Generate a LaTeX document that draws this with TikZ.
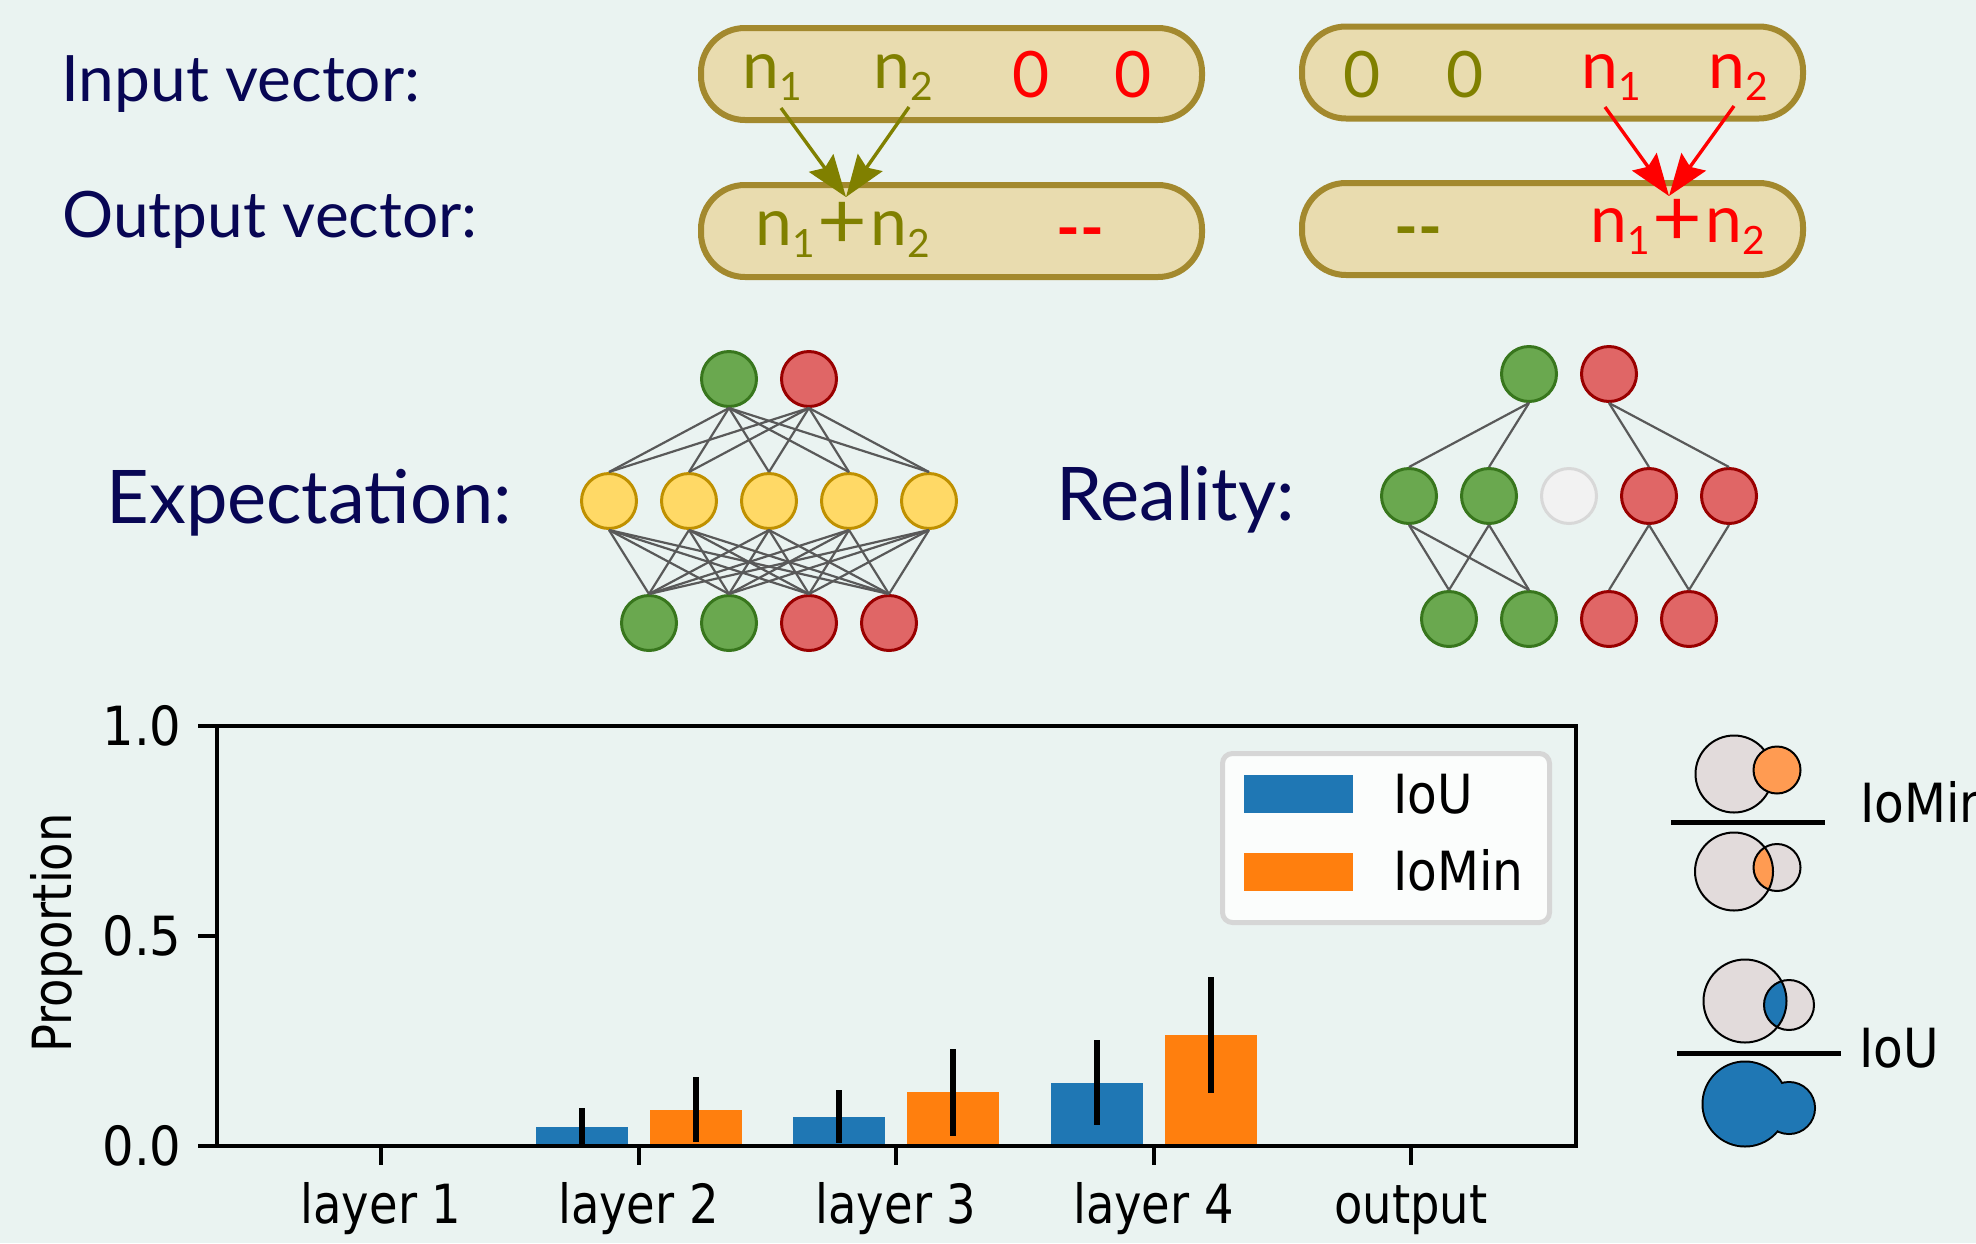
\documentclass[tikz,border=0pt]{standalone}
\usepackage{fontspec}
\setmainfont{Lato}
\newfontfamily\dvs{DejaVu Sans}
\usetikzlibrary{arrows.meta}
\definecolor{bg}{HTML}{EAF3F1}
\definecolor{navy}{RGB}{8,6,84}
\definecolor{pillfill}{HTML}{E9DCAF}
\definecolor{pillline}{HTML}{A3892E}
\definecolor{olivec}{HTML}{808000}
\definecolor{redc}{HTML}{FF0000}
\definecolor{gfill}{HTML}{6AA84F}
\definecolor{gline}{HTML}{38761D}
\definecolor{rfill}{HTML}{E06666}
\definecolor{rline}{HTML}{990000}
\definecolor{yfill}{HTML}{FFD966}
\definecolor{yline}{HTML}{BF9000}
\definecolor{nfill}{HTML}{F2F2F2}
\definecolor{nline}{HTML}{D8D8D8}
\definecolor{connc}{HTML}{595959}
\definecolor{mblue}{HTML}{1F77B4}
\definecolor{morange}{HTML}{FF7F0E}
\definecolor{lorange}{HTML}{FF9B52}
\definecolor{vgray}{HTML}{E2DBDB}
\definecolor{legline}{HTML}{D6D6D6}
\definecolor{legfill}{HTML}{FBFDFC}
\newcommand\subs[1]{\raisebox{-6pt}{\fontsize{19.5}{20}\selectfont #1}}
\newcommand\plussign{\kern1.5pt\raisebox{-1.5pt}{\scalebox{1.3}[1.2]{+}}\kern1.5pt}
\newcommand\chartfont{\dvs\fontsize{27}{32}\selectfont}
\begin{document}
\begin{tikzpicture}[x=0.5pt,y=-0.5pt,
  pill/.style={draw=pillline, fill=pillfill, line width=3pt, rounded corners=22pt,
    minimum width=250.5pt, minimum height=46pt, inner sep=0pt},
  lab/.style={text=navy, inner sep=0pt, anchor=base west, font=\fontsize{32}{38}\selectfont},
  biglab/.style={text=navy, inner sep=0pt, anchor=base west, font=\fontsize{37}{44}\selectfont},
  vtxt/.style={inner sep=0pt, anchor=base west, font=\fontsize{33}{38}\selectfont},
  vnum/.style={inner sep=0pt, anchor=base, font=\fontsize{32}{38}\selectfont},
  vdash/.style={inner sep=0pt, anchor=base, font=\fontsize{32}{38}\selectfont\bfseries},
  arr/.style={-{Stealth[length=21pt,width=15pt,inset=3pt]}, line width=1.7pt},
  neuron/.style={circle, minimum size=27.5pt, inner sep=0pt, line width=1.5pt},
  gn/.style={neuron, fill=gfill, draw=gline},
  rn/.style={neuron, fill=rfill, draw=rline},
  yn/.style={neuron, fill=yfill, draw=yline},
  on/.style={neuron, fill=nfill, draw=nline},
  conn/.style={draw=connc, line width=1.1pt},
  ebar/.style={line width=3pt, black},
  spine/.style={line width=2pt, black},
  ctext/.style={inner sep=0pt, font=\chartfont},
  venn/.style={line width=1pt, black},
  frac/.style={line width=2.5pt, black}
]
\fill[bg] (0,0) rectangle (1976,1243);
\clip (0,0) rectangle (1976,1243);

% ---------- top: vectors ----------
\node[lab] (inlab) at (61,101) {Input vector:};
\node[lab] (outlab) at (62,237) {Output vector:};

\node[pill] (p1in) at (951.5,74) {};
\node[pill] (p2in) at (1552.5,72.5) {};
\node[pill] (p1out) at (951.5,231) {};
\node[pill] (p2out) at (1552.5,229) {};

% pill 1 input
\node[vtxt, text=olivec] (a1) at (742,88) {n\subs{1}};
\node[vtxt, text=olivec] (a2) at (873,88) {n\subs{2}};
\node[vnum, text=redc] (a3) at (1031.5,97) {0};
\node[vnum, text=redc] (a4) at (1133.5,97) {0};
% pill 2 input
\node[vnum, text=olivec] (b1) at (1362.5,97) {0};
\node[vnum, text=olivec] (b2) at (1465,97) {0};
\node[vtxt, text=redc] (b3) at (1581,88) {n\subs{1}};
\node[vtxt, text=redc] (b4) at (1708,88) {n\subs{2}};
% pill 1 output
\node[vtxt, text=olivec] (c1) at (755,245) {n\subs{1}\plussign n\subs{2}};
\node[vdash, text=redc] (c2) at (1080,250) {-{}-};
% pill 2 output
\node[vdash, text=olivec] (d1) at (1418,249) {-{}-};
\node[vtxt, text=redc] (d2) at (1590,242) {n\subs{1}\plussign n\subs{2}};

\coordinate (s1) at (781,108);
\coordinate (s2) at (909,107);
\coordinate (t1) at (846,197);
\coordinate (s3) at (1605,107);
\coordinate (s4) at (1734,106);
\coordinate (t2) at (1669,196);
\draw[arr, olivec] (s1) -- (t1);
\draw[arr, olivec] (s2) -- (t1);
\draw[arr, redc] (s3) -- (t2);
\draw[arr, redc] (s4) -- (t2);

% ---------- middle: networks ----------
\node[biglab] (explab) at (106,523) {Expectation:};
\node[biglab] (reallab) at (1056,520) {Reality:};

\node[gn] (et1) at (729,379) {};
\node[rn] (et2) at (809,379) {};
\foreach \i/\x in {1/609,2/689,3/769,4/849,5/929} \node[yn] (em\i) at (\x,501) {};
\node[gn] (eb1) at (649,623) {};
\node[gn] (eb2) at (729,623) {};
\node[rn] (eb3) at (809,623) {};
\node[rn] (eb4) at (889,623) {};
\foreach \a in {1,2} \foreach \b in {1,...,5} \draw[conn] (et\a.south) -- (em\b.north);
\foreach \a in {1,...,5} \foreach \b in {1,...,4} \draw[conn] (em\a.south) -- (eb\b.north);

\node[gn] (rt1) at (1529,374) {};
\node[rn] (rt2) at (1609,374) {};
\node[gn] (rm1) at (1409,496) {};
\node[gn] (rm2) at (1489,496) {};
\node[on] (rm3) at (1569,496) {};
\node[rn] (rm4) at (1649,496) {};
\node[rn] (rm5) at (1729,496) {};
\node[gn] (rb1) at (1449,619) {};
\node[gn] (rb2) at (1529,619) {};
\node[rn] (rb3) at (1609,619) {};
\node[rn] (rb4) at (1689,619) {};
\foreach \a/\b in {rt1/rm1, rt1/rm2, rt2/rm4, rt2/rm5, rm1/rb1, rm1/rb2, rm2/rb1, rm2/rb2, rm4/rb3, rm4/rb4, rm5/rb4}
  \draw[conn] (\a.south) -- (\b.north);

% ---------- bottom: chart ----------
% bars
\fill[mblue] (535.5,1127) rectangle (627.5,1146);
\fill[morange] (649.5,1110) rectangle (741.5,1146);
\fill[mblue] (793,1117) rectangle (885,1146);
\fill[morange] (907,1092) rectangle (999,1146);
\fill[mblue] (1050.5,1083) rectangle (1142.5,1146);
\fill[morange] (1164.5,1035) rectangle (1256.5,1146);
% error bars
\draw[ebar] (581.5,1108) -- (581.5,1146);
\draw[ebar] (695.5,1077) -- (695.5,1142);
\draw[ebar] (839,1090) -- (839,1143);
\draw[ebar] (953,1049) -- (953,1136);
\draw[ebar] (1096.5,1040) -- (1096.5,1125);
\draw[ebar] (1210.5,977) -- (1210.5,1093);
% axes
\draw[spine] (217,726) rectangle (1576,1146);
\foreach \y/\t in {726/1.0, 936/0.5, 1146/0.0} {
  \draw[spine] (198,\y) -- (217,\y);
  \node[ctext, anchor=east] at (182,\y) {\scalebox{0.92}[1]{\t}};
}
\foreach \x/\t in {381/layer 1, 638.5/layer 2, 896/layer 3, 1153.5/layer 4, 1411/output} {
  \draw[spine] (\x,1146) -- (\x,1165);
  \node[ctext, anchor=base] at (\x,1223) {\scalebox{0.86}[1]{\t}};
}
\node[ctext, rotate=90, anchor=base] (ylab) at (71,933) {\scalebox{0.86}[1]{Proportion}};

% legend
\draw[draw=legline, fill=legfill, line width=2.5pt, rounded corners=5pt] (1222.5,753.5) rectangle (1549.5,922.5);
\fill[mblue] (1244,775) rectangle (1353,813);
\fill[morange] (1244,853) rectangle (1353,891);
\node[ctext, anchor=base west] (legiou) at (1393,813) {\scalebox{0.9}[1]{IoU}};
\node[ctext, anchor=base west] (legiomin) at (1393,890) {\scalebox{0.9}[1]{IoMin}};

% ---------- right: Venn fractions ----------
% IoMin numerator
\filldraw[venn, fill=vgray] (1734,774) circle[radius=38.5];
\filldraw[venn, fill=lorange] (1777,770) circle[radius=23.5];
\draw[frac] (1671,822) -- (1825,822);
% IoMin denominator
\fill[vgray] (1734,871.5) circle[radius=39];
\fill[vgray] (1777,867.5) circle[radius=23.5];
\begin{scope}
  \clip (1734,871.5) circle[radius=39];
  \fill[lorange] (1777,867.5) circle[radius=23.5];
\end{scope}
\draw[venn] (1734,871.5) circle[radius=39];
\draw[venn] (1777,867.5) circle[radius=23.5];
\node[ctext, anchor=base west] (viomin) at (1860,822) {\scalebox{0.9}[1]{IoMin}};

% IoU numerator
\fill[vgray] (1745,1001) circle[radius=41.5];
\fill[vgray] (1789,1005) circle[radius=25];
\begin{scope}
  \clip (1745,1001) circle[radius=41.5];
  \fill[mblue] (1789,1005) circle[radius=25];
\end{scope}
\draw[venn] (1745,1001) circle[radius=41.5];
\draw[venn] (1789,1005) circle[radius=25];
\draw[frac] (1677,1053) -- (1841,1053);
% IoU denominator (union)
\draw[line width=2pt, black] (1745,1104) circle[radius=41.5];
\draw[line width=2pt, black] (1789,1108) circle[radius=25];
\fill[mblue] (1745,1104) circle[radius=41.5];
\fill[mblue] (1789,1108) circle[radius=25];
\node[ctext, anchor=base west] (viou) at (1859,1067) {\scalebox{0.9}[1]{IoU}};
\end{tikzpicture}
\end{document}
